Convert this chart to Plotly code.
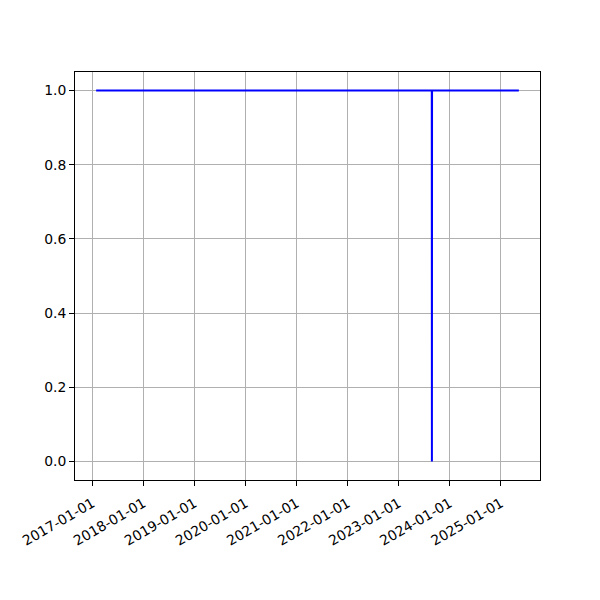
import pandas as pd
import plotly.graph_objects as go

dates = ["2017-01-27", "2023-08-25", "2023-08-26", "2023-08-27", "2025-05-09"]
values = [1, 1, 0, 1, 1]
tick_dates = ["2017-01-01", "2018-01-01", "2019-01-01", "2020-01-01", "2021-01-01",
              "2022-01-01", "2023-01-01", "2024-01-01", "2025-01-01"]
y_ticks = [0.0, 0.2, 0.4, 0.6, 0.8, 1.0]

d = pd.to_datetime(dates)
span = d.max() - d.min()
xr = [d.min() - span * 0.05, d.max() + span * 0.05]

fig = go.Figure()
fig.add_trace(go.Scatter(x=dates, y=values, mode="lines",
                         line=dict(color="#0000ff", width=2), showlegend=False))

font = dict(family="DejaVu Sans", size=13.9, color="black")
fig.update_layout(
    width=600, height=600,
    margin=dict(l=67, r=68, t=64, b=128, autoexpand=False),
    paper_bgcolor="white", plot_bgcolor="white",
    font=font,
)
fig.update_xaxes(
    range=xr, tickmode="array", tickvals=tick_dates, ticktext=tick_dates,
    tickangle=-30, showgrid=True, gridcolor="#b0b0b0", gridwidth=1,
    showline=True, linecolor="black", linewidth=1, mirror=True,
    ticks="outside", ticklen=5, tickcolor="black", zeroline=False, tickfont=font,
    automargin=False, ticklabelstandoff=4,
)
fig.update_yaxes(
    range=[-0.05, 1.05], tickmode="array", tickvals=y_ticks,
    ticktext=[f"{v:.1f}" for v in y_ticks],
    showgrid=True, gridcolor="#b0b0b0", gridwidth=1,
    showline=True, linecolor="black", linewidth=1, mirror=True,
    ticks="outside", ticklen=5, tickcolor="black", zeroline=False, tickfont=font,
    automargin=False,
)
fig.write_html("out.html")
